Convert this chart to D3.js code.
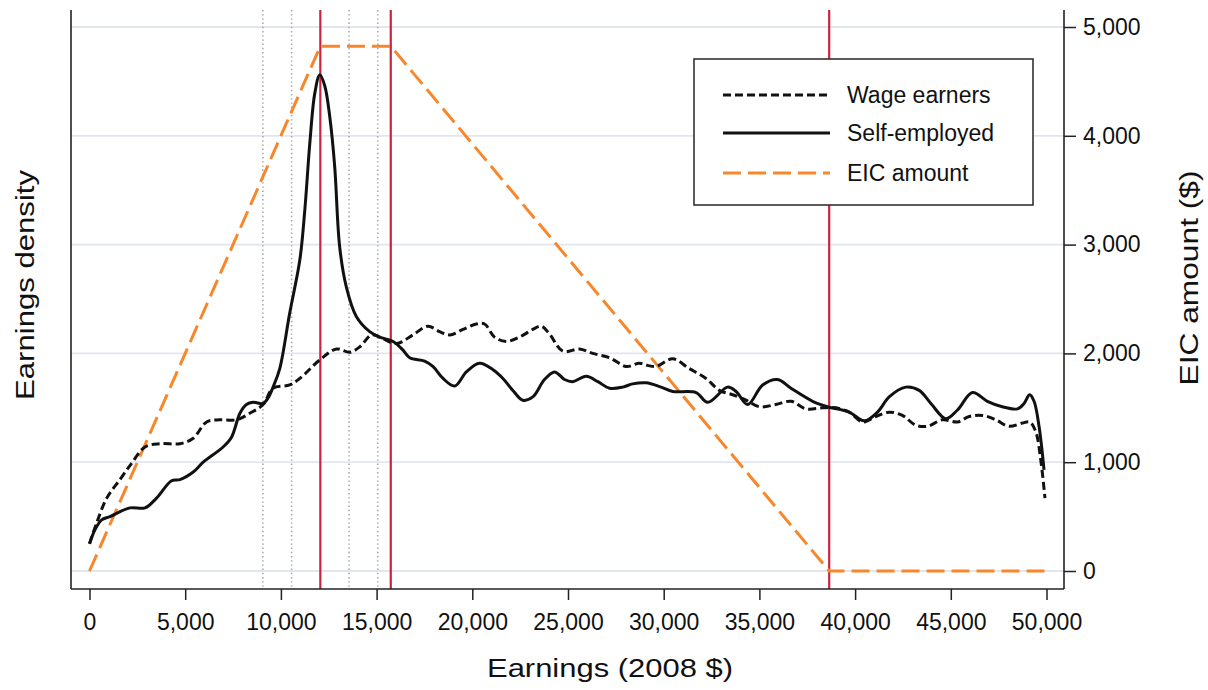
<!DOCTYPE html>
<html>
<head>
<meta charset="utf-8">
<script src="https://cdn.jsdelivr.net/npm/d3@7"></script>
<style>
  html, body { margin: 0; padding: 0; background: #fff; }
  svg { display: block; font-family: "Liberation Sans", Arial, Helvetica, sans-serif; }
</style>
</head>
<body>
<svg id="chart" width="1208" height="690"></svg>
<script>
// ---------------- DATA ----------------
const xTicks = [0, 5000, 10000, 15000, 20000, 25000, 30000, 35000, 40000, 45000, 50000];
const eicTicks = [0, 1000, 2000, 3000, 4000, 5000];

// EIC schedule (2008, two children)
const eicEarnings = [0, 12060, 15740, 38646, 50000];
const eicAmount   = [0, 4824, 4824, 0, 0];

// Kink points (red) and bunching windows (grey dotted)
const kinks = [12060, 15740, 38646];
const windows = [9060, 10560, 13560, 15060];

// Earnings density (arbitrary units, x 1e-5)
const wageX = [0, 370, 900, 1590, 2200, 2900, 3680, 4720, 5420, 6120, 6810, 7680, 8380, 9070, 9590, 10460, 10990, 12030, 12900, 13600, 14120, 14730, 15160, 16030, 16900, 17680, 18290, 18820, 19510, 20210, 20640, 21160, 21770, 22470, 23160, 23600, 24030, 24730, 25600, 26290, 27170, 28040, 28730, 29160, 29600, 30470, 31340, 32210, 32910, 33600, 34300, 34990, 35860, 36650, 37430, 38300, 39000, 39690, 40390, 41090, 41780, 42470, 43170, 43780, 44560, 45350, 45960, 46650, 47350, 48040, 48740, 49120, 49440, 49700, 49920];
const wageY = [0.25, 0.44, 0.67, 0.84, 0.99, 1.14, 1.17, 1.17, 1.22, 1.37, 1.39, 1.39, 1.45, 1.53, 1.68, 1.71, 1.77, 1.94, 2.04, 2.01, 2.06, 2.17, 2.15, 2.09, 2.17, 2.25, 2.20, 2.17, 2.22, 2.27, 2.27, 2.15, 2.11, 2.15, 2.22, 2.25, 2.18, 2.02, 2.04, 2.00, 1.96, 1.88, 1.91, 1.89, 1.88, 1.95, 1.86, 1.77, 1.66, 1.62, 1.57, 1.51, 1.53, 1.56, 1.49, 1.50, 1.50, 1.46, 1.37, 1.42, 1.46, 1.43, 1.34, 1.33, 1.39, 1.37, 1.42, 1.43, 1.39, 1.33, 1.36, 1.37, 1.28, 1.02, 0.67];

const selfX = [0, 290, 635, 1070, 2110, 2900, 3500, 4290, 4720, 5420, 5940, 6980, 7420, 7860, 8200, 8550, 9070, 9330, 9590, 9940, 10460, 10990, 11250, 11510, 11770, 12030, 12290, 12550, 12810, 13070, 13420, 13940, 14640, 15160, 15860, 16380, 16730, 17510, 17940, 18470, 19080, 19690, 20380, 21080, 21600, 22120, 22640, 23160, 23770, 24300, 24820, 25250, 25950, 26560, 27170, 27860, 28380, 29080, 29860, 30470, 31690, 32300, 33340, 33780, 34390, 35170, 35950, 36650, 37780, 38560, 39690, 40480, 41170, 41780, 42650, 43350, 43960, 44740, 45350, 46130, 46910, 47690, 48480, 48830, 49120, 49350, 49610, 49870];
const selfY = [0.25, 0.38, 0.47, 0.50, 0.58, 0.58, 0.67, 0.83, 0.84, 0.91, 1.00, 1.14, 1.23, 1.45, 1.53, 1.55, 1.54, 1.59, 1.69, 1.86, 2.37, 2.86, 3.32, 3.93, 4.39, 4.56, 4.46, 4.18, 3.72, 2.98, 2.61, 2.34, 2.20, 2.15, 2.11, 2.03, 1.96, 1.93, 1.88, 1.77, 1.70, 1.83, 1.91, 1.85, 1.77, 1.66, 1.57, 1.60, 1.76, 1.83, 1.76, 1.74, 1.79, 1.74, 1.68, 1.69, 1.72, 1.73, 1.69, 1.65, 1.64, 1.55, 1.69, 1.65, 1.53, 1.71, 1.76, 1.68, 1.56, 1.51, 1.46, 1.38, 1.46, 1.60, 1.69, 1.66, 1.54, 1.40, 1.48, 1.64, 1.56, 1.51, 1.49, 1.54, 1.62, 1.56, 1.33, 0.93];

const legendLabels = ["Wage earners", "Self-employed", "EIC amount"];

// ---------------- CHART ----------------
const svg = d3.select("#chart");
const frame = {left: 71, right: 1064, top: 10, bottom: 589};

const x = d3.scaleLinear().domain([0, 50000]).range([89.5, 1046.5]);
const yEic = d3.scaleLinear().domain([0, 5000]).range([571, 27]);
const yDen = d3.scaleLinear().domain([0, 5]).range([571, 27]);

const RED = "#c9243f", ORANGE = "#f7872a";

// gridlines
svg.append("g").selectAll("line").data(eicTicks).join("line")
  .attr("x1", frame.left).attr("x2", frame.right)
  .attr("y1", d => yEic(d)).attr("y2", d => yEic(d))
  .attr("stroke", "#e2e6f1").attr("stroke-width", 1.8);

// grey dotted windows
svg.append("g").selectAll("line").data(windows).join("line")
  .attr("x1", d => x(d)).attr("x2", d => x(d))
  .attr("y1", frame.top).attr("y2", frame.bottom)
  .attr("stroke", "#a9a9a9").attr("stroke-width", 1.6).attr("stroke-dasharray", "1.4,2.8");

// red kinks
svg.append("g").selectAll("line").data(kinks).join("line")
  .attr("x1", d => x(d)).attr("x2", d => x(d))
  .attr("y1", frame.top).attr("y2", frame.bottom)
  .attr("stroke", RED).attr("stroke-width", 2.2);

// EIC schedule
const eicLine = d3.line().x((d, i) => x(eicEarnings[i])).y((d, i) => yEic(eicAmount[i]));
svg.append("path").datum(eicEarnings).attr("d", eicLine)
  .attr("fill", "none").attr("stroke", ORANGE).attr("stroke-width", 3)
  .attr("stroke-dasharray", "18,7");

// density curves
const denLine = (xs, ys) => d3.line().curve(d3.curveCatmullRom.alpha(0.5))
  .x((d, i) => x(xs[i])).y((d, i) => yDen(ys[i]))(xs);

svg.append("path").attr("d", denLine(wageX, wageY))
  .attr("fill", "none").attr("stroke", "#111").attr("stroke-width", 3)
  .attr("stroke-dasharray", "8,4").attr("stroke-linejoin", "round");

svg.append("path").attr("d", denLine(selfX, selfY))
  .attr("fill", "none").attr("stroke", "#111").attr("stroke-width", 3)
  .attr("stroke-linejoin", "round");

// frame
const frameG = svg.append("g").attr("stroke", "#222").attr("stroke-width", 1.6);
frameG.append("line").attr("x1", frame.left).attr("x2", frame.left).attr("y1", frame.top).attr("y2", frame.bottom);
frameG.append("line").attr("x1", frame.right).attr("x2", frame.right).attr("y1", frame.top).attr("y2", frame.bottom);
frameG.append("line").attr("x1", frame.left).attr("x2", frame.right).attr("y1", frame.bottom).attr("y2", frame.bottom);

// bottom axis
const xAxis = svg.append("g").attr("transform", `translate(0,${frame.bottom})`)
  .call(d3.axisBottom(x).tickValues(xTicks).tickFormat(d3.format(",")).tickSize(11).tickPadding(14));
xAxis.select(".domain").remove();
xAxis.selectAll(".tick line").attr("stroke", "#222").attr("stroke-width", 1.5);
xAxis.selectAll(".tick text").attr("font-size", 23).attr("fill", "#111")
  .attr("font-family", "'Liberation Sans', Arial, sans-serif");

// right axis
const yAxis = svg.append("g").attr("transform", `translate(${frame.right},0)`)
  .call(d3.axisRight(yEic).tickValues(eicTicks).tickFormat(d3.format(",")).tickSize(12).tickPadding(7));
yAxis.select(".domain").remove();
yAxis.selectAll(".tick line").attr("stroke", "#222").attr("stroke-width", 1.5);
yAxis.selectAll(".tick text").attr("font-size", 23).attr("fill", "#111")
  .attr("font-family", "'Liberation Sans', Arial, sans-serif");

// axis titles
svg.append("text").attr("x", 610).attr("y", 677).attr("text-anchor", "middle")
  .attr("font-size", 25).attr("fill", "#111")
  .attr("textLength", 246).attr("lengthAdjust", "spacingAndGlyphs")
  .text("Earnings (2008 $)");
svg.append("text").attr("transform", "translate(34,285) rotate(-90)").attr("text-anchor", "middle")
  .attr("font-size", 25).attr("fill", "#111")
  .attr("textLength", 230).attr("lengthAdjust", "spacingAndGlyphs")
  .text("Earnings density");
svg.append("text").attr("transform", "translate(1198,278) rotate(-90)").attr("text-anchor", "middle")
  .attr("font-size", 25).attr("fill", "#111")
  .attr("textLength", 215).attr("lengthAdjust", "spacingAndGlyphs")
  .text("EIC amount ($)");

// legend
const lg = svg.append("g");
lg.append("rect").attr("x", 694).attr("y", 59).attr("width", 339).attr("height", 146)
  .attr("fill", "#fff").attr("stroke", "#333").attr("stroke-width", 1.6);
const legendStyles = [
  {stroke: "#111", dash: "8,4", w: 2.8},
  {stroke: "#111", dash: null, w: 2.8},
  {stroke: ORANGE, dash: "18,7", w: 2.8}
];
const rowY = [95, 133, 173];
legendLabels.forEach((lab, i) => {
  lg.append("line").attr("x1", 723).attr("x2", 830).attr("y1", rowY[i]).attr("y2", rowY[i])
    .attr("stroke", legendStyles[i].stroke).attr("stroke-width", legendStyles[i].w)
    .attr("stroke-dasharray", legendStyles[i].dash);
  lg.append("text").attr("x", 847).attr("y", rowY[i]).attr("dy", "0.35em")
    .attr("font-size", 23).attr("fill", "#111").text(lab);
});
</script>
</body>
</html>
